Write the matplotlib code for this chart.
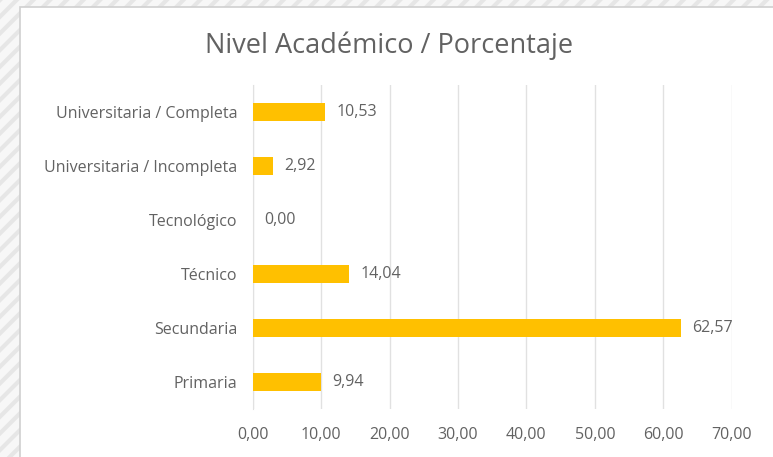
import matplotlib
matplotlib.use('Agg')
import matplotlib.pyplot as plt
from matplotlib.patches import Rectangle

categorias = ['Primaria', 'Secundaria', 'Técnico', 'Tecnológico',
              'Universitaria / Incompleta', 'Universitaria / Completa']
porcentajes = [9.94, 62.57, 14.04, 0.00, 2.92, 10.53]
ticks_x = [0, 10, 20, 30, 40, 50, 60, 70]

plt.rcParams['font.family'] = ['Open Sans', 'DejaVu Sans']
plt.rcParams['hatch.linewidth'] = 3

gris = '#626262'
fig = plt.figure(figsize=(7.73, 4.57), dpi=100)

# fondo rayado y panel blanco del grafico
fondo = Rectangle((0, 0), 1, 1, transform=fig.transFigure, facecolor='#f7f7f7',
                  edgecolor='#e6e6e6', hatch='//', lw=0, zorder=-3)
fig.patches.append(fondo)
panel = Rectangle((20 / 773, -0.05), 1.1, 1 - 7 / 457 + 0.05, transform=fig.transFigure,
                  facecolor='white', edgecolor='#d0d0d0', lw=1.2, zorder=-2)
fig.patches.append(panel)

ax = fig.add_axes([252.7 / 773, 1 - 409 / 457, 479 / 773, 324 / 457])
ax.set_facecolor('none')
pos = range(len(categorias))
barras = ax.barh(pos, porcentajes, height=0.34, color='#FFC000', zorder=3)

for b, v in zip(barras, porcentajes):
    ax.annotate(f'{v:.2f}'.replace('.', ','), (b.get_width(), b.get_y() + b.get_height() / 2),
                xytext=(8.4, 0), textcoords='offset points', va='center', ha='left',
                fontsize=11.5, color=gris)

ax.set_xlim(0, 70)
ax.set_ylim(-0.5, len(categorias) - 0.5)
ax.set_xticks(ticks_x)
ax.set_xticklabels([f'{t:.2f}'.replace('.', ',') for t in ticks_x])
ax.set_yticks(list(pos))
ax.set_yticklabels(categorias)
ax.tick_params(axis='both', length=0, labelsize=11.5, colors=gris)
ax.tick_params(axis='x', pad=13)
ax.tick_params(axis='y', pad=11)
ax.grid(axis='x', color='#e1e1e1', lw=1, zorder=0)
for s in ['top', 'right', 'bottom']:
    ax.spines[s].set_visible(False)
ax.spines['left'].set_color('#e1e1e1')

fig.text(389 / 773, 1 - 46 / 457, 'Nivel Académico / Porcentaje', ha='center', va='center',
         fontsize=19.5, color=gris)

fig.savefig('out.png', dpi=100)
